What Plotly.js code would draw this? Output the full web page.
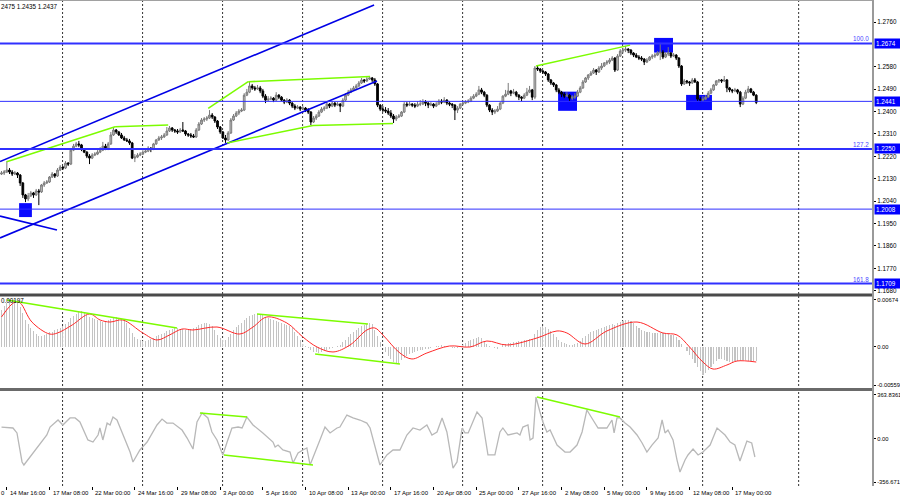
<!DOCTYPE html>
<html><head><meta charset="utf-8">
<script src="https://cdn.plot.ly/plotly-3.0.1.min.js"></script>
<style>html,body{margin:0;padding:0;background:#fff;}#chart{width:900px;height:500px;}</style>
</head><body><div id="chart"></div>
<script>
// ---------- DATA ----------
const timeLabels = ["14 Mar 16:00","17 Mar 08:00","22 Mar 00:00","24 Mar 16:00","29 Mar 08:00","3 Apr 00:00","5 Apr 16:00","10 Apr 08:00","13 Apr 00:00","17 Apr 16:00","20 Apr 08:00","25 Apr 00:00","27 Apr 16:00","2 May 08:00","5 May 00:00","9 May 16:00","12 May 08:00","17 May 00:00"];

const openP = [
1.2149,1.2153,1.2157,1.2165,1.2157,1.2149,1.2153,1.2145,1.2113,1.2065,
1.2049,1.2061,1.2073,1.2065,1.2081,1.2077,1.2105,1.2113,1.2117,1.2137,
1.2149,1.2141,1.2165,1.2177,1.2173,1.2193,1.2189,1.2245,1.2261,1.2270,
1.2266,1.2249,1.2237,1.2221,1.2213,1.2225,1.2229,1.2237,1.2245,1.2261,
1.2249,1.2270,1.2306,1.2326,1.2318,1.2306,1.2294,1.2286,1.2282,1.2274,
1.2213,1.2217,1.2225,1.2229,1.2237,1.2241,1.2253,1.2249,1.2270,1.2286,
1.2294,1.2298,1.2306,1.2322,1.2334,1.2326,1.2322,1.2318,1.2326,1.2322,
1.2310,1.2306,1.2302,1.2298,1.2326,1.2350,1.2366,1.2370,1.2374,1.2386,
1.2378,1.2362,1.2338,1.2318,1.2294,1.2286,1.2314,1.2366,1.2382,1.2394,
1.2402,1.2406,1.2466,1.2478,1.2503,1.2495,1.2491,1.2495,1.2483,1.2462,
1.2446,1.2450,1.2454,1.2446,1.2466,1.2458,1.2446,1.2438,1.2446,1.2434,
1.2422,1.2414,1.2418,1.2410,1.2414,1.2406,1.2398,1.2358,1.2374,1.2382,
1.2398,1.2410,1.2414,1.2430,1.2422,1.2434,1.2426,1.2430,1.2422,1.2446,
1.2466,1.2478,1.2487,1.2495,1.2503,1.2515,1.2527,1.2523,1.2531,1.2535,
1.2527,1.2511,1.2426,1.2410,1.2406,1.2402,1.2394,1.2382,1.2370,1.2378,
1.2382,1.2398,1.2430,1.2426,1.2430,1.2426,1.2422,1.2430,1.2430,1.2438,
1.2434,1.2426,1.2430,1.2422,1.2430,1.2442,1.2438,1.2446,1.2434,1.2430,
1.2426,1.2406,1.2414,1.2430,1.2434,1.2438,1.2442,1.2454,1.2462,1.2470,
1.2487,1.2478,1.2466,1.2426,1.2406,1.2398,1.2402,1.2410,1.2434,1.2462,
1.2470,1.2483,1.2474,1.2478,1.2466,1.2458,1.2454,1.2466,1.2478,1.2487,
1.2458,1.2575,1.2571,1.2563,1.2559,1.2551,1.2527,1.2515,1.2507,1.2487,
1.2478,1.2470,1.2462,1.2466,1.2454,1.2458,1.2462,1.2478,1.2495,1.2519,
1.2535,1.2547,1.2555,1.2567,1.2559,1.2575,1.2583,1.2595,1.2599,1.2607,
1.2615,1.2567,1.2623,1.2643,1.2647,1.2651,1.2647,1.2635,1.2627,1.2619,
1.2615,1.2611,1.2599,1.2607,1.2619,1.2623,1.2627,1.2635,1.2639,1.2619,
1.2631,1.2635,1.2623,1.2627,1.2615,1.2583,1.2511,1.2523,1.2519,1.2515,
1.2527,1.2519,1.2450,1.2446,1.2450,1.2458,1.2474,1.2487,1.2507,1.2523,
1.2527,1.2523,1.2527,1.2495,1.2487,1.2483,1.2487,1.2478,1.2430,1.2454,
1.2478,1.2491,1.2478,1.2466];

const highP = [
1.2161,1.2165,1.2201,1.2173,1.2165,1.2161,1.2157,1.2149,1.2117,1.2069,
1.2073,1.2081,1.2077,1.2089,1.2089,1.2109,1.2121,1.2125,1.2141,1.2157,
1.2153,1.2173,1.2185,1.2181,1.2201,1.2197,1.2253,1.2270,1.2278,1.2282,
1.2270,1.2253,1.2241,1.2229,1.2233,1.2237,1.2245,1.2257,1.2278,1.2270,
1.2278,1.2318,1.2338,1.2330,1.2322,1.2314,1.2302,1.2294,1.2290,1.2278,
1.2229,1.2233,1.2237,1.2245,1.2249,1.2261,1.2257,1.2274,1.2290,1.2302,
1.2306,1.2314,1.2338,1.2342,1.2338,1.2330,1.2330,1.2334,1.2358,1.2326,
1.2314,1.2314,1.2310,1.2334,1.2358,1.2374,1.2378,1.2382,1.2406,1.2394,
1.2382,1.2366,1.2342,1.2322,1.2306,1.2322,1.2374,1.2390,1.2402,1.2410,
1.2414,1.2474,1.2491,1.2519,1.2511,1.2503,1.2507,1.2503,1.2491,1.2470,
1.2462,1.2462,1.2458,1.2478,1.2470,1.2462,1.2450,1.2454,1.2450,1.2438,
1.2430,1.2426,1.2422,1.2422,1.2418,1.2414,1.2402,1.2382,1.2390,1.2406,
1.2418,1.2422,1.2438,1.2434,1.2442,1.2438,1.2438,1.2434,1.2454,1.2474,
1.2487,1.2495,1.2503,1.2511,1.2523,1.2535,1.2531,1.2539,1.2543,1.2539,
1.2535,1.2515,1.2430,1.2422,1.2418,1.2414,1.2406,1.2390,1.2386,1.2390,
1.2402,1.2438,1.2438,1.2442,1.2434,1.2434,1.2442,1.2446,1.2450,1.2446,
1.2438,1.2438,1.2434,1.2438,1.2450,1.2450,1.2458,1.2450,1.2442,1.2434,
1.2430,1.2422,1.2434,1.2442,1.2446,1.2450,1.2462,1.2470,1.2478,1.2503,
1.2495,1.2483,1.2470,1.2430,1.2414,1.2410,1.2422,1.2438,1.2466,1.2487,
1.2515,1.2487,1.2491,1.2483,1.2470,1.2462,1.2474,1.2495,1.2503,1.2491,
1.2583,1.2583,1.2575,1.2567,1.2563,1.2555,1.2531,1.2519,1.2511,1.2495,
1.2483,1.2478,1.2478,1.2470,1.2466,1.2474,1.2487,1.2503,1.2527,1.2539,
1.2551,1.2563,1.2575,1.2571,1.2583,1.2595,1.2599,1.2607,1.2615,1.2623,
1.2619,1.2631,1.2651,1.2655,1.2664,1.2655,1.2651,1.2639,1.2635,1.2627,
1.2623,1.2615,1.2615,1.2623,1.2631,1.2635,1.2643,1.2676,1.2647,1.2639,
1.2659,1.2639,1.2635,1.2631,1.2619,1.2587,1.2531,1.2527,1.2523,1.2535,
1.2535,1.2523,1.2458,1.2462,1.2466,1.2483,1.2495,1.2511,1.2527,1.2531,
1.2531,1.2543,1.2531,1.2499,1.2491,1.2495,1.2491,1.2483,1.2462,1.2487,
1.2503,1.2495,1.2483,1.2470];

const lowP = [
1.2145,1.2145,1.2153,1.2149,1.2141,1.2145,1.2133,1.2101,1.2053,1.2036,
1.2040,1.2057,1.2053,1.2061,1.2024,1.2073,1.2097,1.2109,1.2113,1.2133,
1.2133,1.2137,1.2161,1.2165,1.2169,1.2181,1.2185,1.2241,1.2257,1.2257,
1.2241,1.2233,1.2213,1.2189,1.2209,1.2221,1.2225,1.2233,1.2241,1.2245,
1.2245,1.2266,1.2302,1.2310,1.2302,1.2290,1.2282,1.2278,1.2266,1.2209,
1.2197,1.2213,1.2221,1.2225,1.2233,1.2237,1.2237,1.2245,1.2266,1.2282,
1.2286,1.2294,1.2302,1.2318,1.2318,1.2314,1.2310,1.2314,1.2318,1.2302,
1.2298,1.2294,1.2294,1.2294,1.2322,1.2346,1.2358,1.2362,1.2370,1.2370,
1.2354,1.2330,1.2310,1.2290,1.2274,1.2282,1.2310,1.2362,1.2378,1.2386,
1.2398,1.2402,1.2462,1.2474,1.2487,1.2483,1.2487,1.2474,1.2454,1.2434,
1.2442,1.2446,1.2438,1.2442,1.2450,1.2442,1.2430,1.2434,1.2426,1.2414,
1.2406,1.2410,1.2402,1.2406,1.2398,1.2390,1.2346,1.2354,1.2366,1.2378,
1.2394,1.2402,1.2410,1.2414,1.2418,1.2418,1.2422,1.2398,1.2418,1.2442,
1.2462,1.2474,1.2483,1.2491,1.2499,1.2511,1.2515,1.2519,1.2527,1.2519,
1.2503,1.2418,1.2402,1.2398,1.2394,1.2386,1.2374,1.2354,1.2362,1.2374,
1.2378,1.2394,1.2418,1.2422,1.2418,1.2414,1.2418,1.2422,1.2426,1.2422,
1.2414,1.2422,1.2414,1.2418,1.2426,1.2430,1.2434,1.2426,1.2422,1.2414,
1.2366,1.2394,1.2410,1.2426,1.2430,1.2434,1.2438,1.2450,1.2458,1.2466,
1.2470,1.2458,1.2418,1.2398,1.2386,1.2390,1.2398,1.2406,1.2430,1.2458,
1.2466,1.2462,1.2470,1.2458,1.2446,1.2442,1.2450,1.2462,1.2474,1.2446,
1.2450,1.2563,1.2555,1.2551,1.2543,1.2519,1.2507,1.2499,1.2478,1.2470,
1.2458,1.2454,1.2458,1.2442,1.2446,1.2450,1.2458,1.2474,1.2491,1.2515,
1.2527,1.2543,1.2551,1.2547,1.2555,1.2567,1.2579,1.2587,1.2591,1.2603,
1.2559,1.2563,1.2619,1.2635,1.2639,1.2635,1.2627,1.2619,1.2615,1.2607,
1.2603,1.2587,1.2595,1.2603,1.2611,1.2615,1.2623,1.2607,1.2611,1.2615,
1.2623,1.2615,1.2619,1.2607,1.2575,1.2503,1.2507,1.2511,1.2503,1.2511,
1.2515,1.2442,1.2438,1.2442,1.2446,1.2454,1.2470,1.2483,1.2503,1.2515,
1.2515,1.2519,1.2478,1.2478,1.2474,1.2478,1.2470,1.2418,1.2426,1.2450,
1.2474,1.2474,1.2462,1.2430];

const closeP = [
1.2153,1.2157,1.2165,1.2157,1.2149,1.2153,1.2145,1.2113,1.2065,1.2049,
1.2061,1.2073,1.2065,1.2081,1.2077,1.2105,1.2113,1.2117,1.2137,1.2149,
1.2141,1.2165,1.2177,1.2173,1.2193,1.2189,1.2245,1.2261,1.2270,1.2266,
1.2249,1.2237,1.2221,1.2213,1.2225,1.2229,1.2237,1.2245,1.2261,1.2249,
1.2270,1.2306,1.2326,1.2318,1.2306,1.2294,1.2286,1.2282,1.2274,1.2213,
1.2217,1.2225,1.2229,1.2237,1.2241,1.2253,1.2249,1.2270,1.2286,1.2294,
1.2298,1.2306,1.2322,1.2334,1.2326,1.2322,1.2318,1.2326,1.2322,1.2310,
1.2306,1.2302,1.2298,1.2326,1.2350,1.2366,1.2370,1.2374,1.2386,1.2378,
1.2362,1.2338,1.2318,1.2294,1.2286,1.2314,1.2366,1.2382,1.2394,1.2402,
1.2406,1.2466,1.2478,1.2503,1.2495,1.2491,1.2495,1.2483,1.2462,1.2446,
1.2450,1.2454,1.2446,1.2466,1.2458,1.2446,1.2438,1.2446,1.2434,1.2422,
1.2414,1.2418,1.2410,1.2414,1.2406,1.2398,1.2358,1.2374,1.2382,1.2398,
1.2410,1.2414,1.2430,1.2422,1.2434,1.2426,1.2430,1.2422,1.2446,1.2466,
1.2478,1.2487,1.2495,1.2503,1.2515,1.2527,1.2523,1.2531,1.2535,1.2527,
1.2511,1.2426,1.2410,1.2406,1.2402,1.2394,1.2382,1.2370,1.2378,1.2382,
1.2398,1.2430,1.2426,1.2430,1.2426,1.2422,1.2430,1.2430,1.2438,1.2434,
1.2426,1.2430,1.2422,1.2430,1.2442,1.2438,1.2446,1.2434,1.2430,1.2426,
1.2406,1.2414,1.2430,1.2434,1.2438,1.2442,1.2454,1.2462,1.2470,1.2487,
1.2478,1.2466,1.2426,1.2406,1.2398,1.2402,1.2410,1.2434,1.2462,1.2470,
1.2483,1.2474,1.2478,1.2466,1.2458,1.2454,1.2466,1.2478,1.2487,1.2458,
1.2575,1.2571,1.2563,1.2559,1.2551,1.2527,1.2515,1.2507,1.2487,1.2478,
1.2470,1.2462,1.2466,1.2454,1.2458,1.2462,1.2478,1.2495,1.2519,1.2535,
1.2547,1.2555,1.2567,1.2559,1.2575,1.2583,1.2595,1.2599,1.2607,1.2615,
1.2567,1.2623,1.2643,1.2647,1.2651,1.2647,1.2635,1.2627,1.2619,1.2615,
1.2611,1.2599,1.2607,1.2619,1.2623,1.2627,1.2635,1.2639,1.2619,1.2631,
1.2635,1.2623,1.2627,1.2615,1.2583,1.2511,1.2523,1.2519,1.2515,1.2527,
1.2519,1.2450,1.2446,1.2450,1.2458,1.2474,1.2487,1.2507,1.2523,1.2527,
1.2523,1.2527,1.2495,1.2487,1.2483,1.2487,1.2478,1.2430,1.2454,1.2478,
1.2491,1.2478,1.2466,1.2437];

const macdHist = [
0.00530,0.00587,0.00631,0.00659,0.00674,0.00674,0.00659,0.00573,0.00486,0.00385,
0.00328,0.00270,0.00227,0.00184,0.00155,0.00155,0.00169,0.00184,0.00212,0.00212,
0.00241,0.00255,0.00270,0.00299,0.00328,0.00356,0.00414,0.00443,0.00472,0.00501,
0.00515,0.00486,0.00457,0.00429,0.00414,0.00400,0.00385,0.00371,0.00356,0.00371,
0.00385,0.00400,0.00414,0.00429,0.00414,0.00400,0.00385,0.00342,0.00270,0.00198,
0.00140,0.00111,0.00097,0.00082,0.00082,0.00097,0.00111,0.00126,0.00155,0.00169,
0.00184,0.00198,0.00227,0.00241,0.00255,0.00270,0.00270,0.00255,0.00255,0.00241,
0.00241,0.00255,0.00270,0.00284,0.00313,0.00328,0.00342,0.00342,0.00328,0.00299,
0.00241,0.00169,0.00126,0.00097,0.00097,0.00140,0.00184,0.00241,0.00284,0.00313,
0.00342,0.00385,0.00414,0.00443,0.00457,0.00472,0.00472,0.00472,0.00457,0.00429,
0.00414,0.00400,0.00385,0.00371,0.00356,0.00342,0.00328,0.00313,0.00299,0.00270,
0.00212,0.00155,0.00097,0.00039,0.00010,-0.00019,-0.00048,-0.00076,-0.00076,-0.00091,
-0.00076,-0.00062,-0.00048,-0.00033,-0.00019,-0.00004,0.00010,0.00025,0.00068,0.00097,
0.00140,0.00184,0.00212,0.00241,0.00270,0.00299,0.00313,0.00328,0.00342,0.00328,
0.00241,0.00155,0.00068,-0.00004,-0.00076,-0.00134,-0.00177,-0.00221,-0.00250,-0.00235,
-0.00192,-0.00163,-0.00134,-0.00105,-0.00091,-0.00076,-0.00062,-0.00048,-0.00048,-0.00033,
-0.00033,-0.00019,-0.00004,0.00010,0.00010,0.00025,0.00010,-0.00004,-0.00004,-0.00019,
-0.00019,-0.00019,-0.00004,0.00025,0.00053,0.00082,0.00097,0.00111,0.00126,0.00140,
0.00126,0.00082,0.00039,0.00010,-0.00004,-0.00019,-0.00033,-0.00004,0.00025,0.00039,
0.00053,0.00053,0.00068,0.00068,0.00082,0.00082,0.00097,0.00097,0.00111,0.00111,
0.00184,0.00241,0.00284,0.00299,0.00284,0.00255,0.00227,0.00184,0.00140,0.00097,
0.00068,0.00053,0.00039,0.00025,0.00025,0.00039,0.00053,0.00082,0.00126,0.00155,
0.00184,0.00212,0.00227,0.00241,0.00255,0.00270,0.00284,0.00299,0.00313,0.00328,
0.00313,0.00342,0.00356,0.00371,0.00385,0.00385,0.00371,0.00342,0.00299,0.00270,
0.00241,0.00227,0.00212,0.00212,0.00198,0.00198,0.00198,0.00198,0.00198,0.00184,
0.00184,0.00169,0.00169,0.00140,0.00097,0.00039,-0.00004,-0.00062,-0.00120,-0.00177,
-0.00235,-0.00293,-0.00351,-0.00408,-0.00380,-0.00336,-0.00293,-0.00250,-0.00206,-0.00177,
-0.00177,-0.00192,-0.00206,-0.00221,-0.00221,-0.00206,-0.00206,-0.00206,-0.00192,-0.00192,
-0.00206,-0.00206,-0.00206,-0.00206];

const macdSignalBar = [0,5,7,11.4,18,21,26.5,33,37,40.7,45.5,53,58.3,63,67.7,71.8,80.8,89.4,94.3,99.5,107,113,118.3,124.3,130.7,137,140,143,149.4,153.9,159.5,168,175.7,182,189.5,200.8,208.3,212,218.8,227,238.3,248,253.3,258,263,266.8,272,275.8,283];
const macdSignal = [0.00429,0.00645,0.00631,0.00356,0.00183,0.00198,0.00313,0.00472,0.00385,0.00356,0.00385,0.00198,0.00097,0.00169,0.00255,0.00241,0.00284,0.00183,0.00284,0.00429,0.00342,0.00140,-0.00004,-0.00076,0.00025,0.00241,0.00270,0.00169,-0.00091,-0.00177,-0.00091,0.00010,-0.00004,0.00082,0.00025,0.00126,0.00227,0.00198,0.00039,0.00227,0.00356,0.00198,0.00169,-0.00004,-0.00221,-0.00322,-0.00264,-0.00206,-0.00221];

const cciBar = [0,4.3,5.8,7.7,8.4,10.7,13.3,17,18.2,20,21.2,23,25.7,27.6,29.4,32.4,34.3,36.2,36.9,38,39.6,40.7,41.8,43.3,45.6,48.2,49.3,51.9,54.6,58.3,60.2,62,64.3,67.7,69.6,71.8,73.3,75.2,77.4,78.9,80.8,83,84.6,86.4,88.7,90.2,92,94.3,98,101.8,102.6,103.7,105.5,108.2,109.3,111.2,113,114.5,115.7,117.5,119.4,121.3,123.2,125.8,126.9,129.5,131.8,134.4,137,138.2,140,141.9,144.5,146.8,149.4,152,154.3,156.9,159.5,161.4,163.3,165.2,167,168.2,169.3,170.8,172.7,173.8,175,178.3,180.2,182.4,185,186.9,188,189.9,193.3,194.4,195.5,197.4,198.2,199.3,200.4,201.9,203,204.5,205.7,208.3,211.3,213.2,215.8,217.7,219.5,221.8,223.7,227,228.9,229.7,230.8,231.9,233.8,235.7,238.3,240.2,242,243.9,246.2,247.7,248.8,249.9,251.8,253.3,254.4,256.3,257.4,259.3,261.2,263,265.7,268.3,270.2,271.3,273.2,275,276.9,278,279.5,281.3,282.5];
const cciVal = [99,91,50,-190,-215,-149,-66,33,99,132,157,116,174,174,141,-8,-25,33,91,-8,132,116,182,157,33,-108,-190,-91,-25,116,165,132,132,74,8,-83,141,215,174,58,-8,-132,-25,91,99,91,182,116,50,-25,-66,-50,-91,-108,-198,-116,-91,-74,-215,-108,-8,99,50,91,99,198,174,157,132,91,-50,-215,-132,-91,-91,33,91,74,116,33,58,174,58,-108,-240,-190,91,50,50,223,174,-132,-132,58,91,33,50,33,99,116,-8,8,347,223,141,58,74,-50,-108,-108,-50,58,240,157,91,91,157,50,174,174,132,99,33,-33,-108,-50,8,157,50,74,-8,-174,-273,-174,-132,-83,-132,-108,-50,91,58,33,-25,-50,-182,-108,-17,-33,-149];

// Drawn objects: [barStart, valueStart, barEnd, valueEnd]
const blueTrendLines = [[-0.56,1.2199,139.7,1.2828],[-0.56,1.1892,140.8,1.2523],[-0.56,1.1980,20.8,1.1924]];
const greenPriceLines = [[1.95,1.2198,42.6,1.2339],[42.6,1.2339,62.5,1.2346],[77.5,1.2413,92.5,1.2520],[92.5,1.2520,138.2,1.2541],[84.6,1.2274,116.8,1.2344],[116.8,1.2344,146.8,1.2352],[200.4,1.2583,235.7,1.2667]];
const greenMacdLines = [[2.1,0.00674,65.8,0.00270],[95.8,0.00472,137.4,0.00328],[117.6,-0.00105,149.4,-0.00250]];
const greenCciLines = [[74.4,215,92.1,182],[83.4,-132,116.8,-215],[200.8,347,231.9,182]];
const markerBoxes = [[6.6,11.4,1.1976,1.2032],[208.7,215.8,1.2403,1.2480],[244.7,251.8,1.2637,1.2696],[256.7,266.4,1.2406,1.2467]];
const levels = [1.2674,1.2441,1.2250,1.2008,1.1709];
const fibLabels = [["100.0",1.2674],["127.2",1.2250],["161.8",1.1709]];
const priceTicks = [1.2760,1.2580,1.2490,1.2400,1.2310,1.2220,1.2130,1.2040,1.1950,1.1860,1.1770,1.1680];
const macdTicks = [0.00674,0,-0.00559];
const macdTickText = ["0.00674","0.00","-0.00559"];
const cciTicks = [363.8361,0,-356.6713];
const cciTickText = ["363.8361","0.00","-356.6713"];
const headerText = "2475 1.2435 1.2437";
const macdInfo = "0.00197";

// ---------- STYLE / LAYOUT ----------
const FONT = "Liberation Sans, Arial, sans-serif";
const bars = closeP.map((_, i) => i);
const levelWidths = [2,1,2,1,2];
const gridBars = [22.9,52.9,82.9,112.9,142.9,172.9,202.9,232.9,262.9,298.9];
const labelBars = timeLabels.map((_, k) => 2 + 16 * k);

const traces = [];
traces.push({
  type:'candlestick', x:bars, open:openP, high:highP, low:lowP, close:closeP,
  xaxis:'x', yaxis:'y', hoverinfo:'skip', whiskerwidth:0,
  increasing:{line:{color:'#7a7a7a', width:1}, fillcolor:'#c4c4c4'},
  decreasing:{line:{color:'#000000', width:1}, fillcolor:'#000000'}
});
function addLines(arr, yaxis, color, width){
  arr.forEach(l => traces.push({type:'scatter', mode:'lines', x:[l[0],l[2]], y:[l[1],l[3]], xaxis:'x', yaxis:yaxis, line:{color:color, width:width}, hoverinfo:'skip'}));
}
addLines(blueTrendLines, 'y', '#0000e6', 1.6);
addLines(greenPriceLines, 'y', '#7cfc00', 1.5);

traces.push({type:'bar', x:bars, y:macdHist, xaxis:'x', yaxis:'y2', width:0.45, marker:{color:'#c3c3c3', line:{width:0}}, hoverinfo:'skip'});
traces.push({type:'scatter', mode:'lines', x:macdSignalBar, y:macdSignal, xaxis:'x', yaxis:'y2', line:{color:'#ff2a2a', width:1, shape:'spline', smoothing:1}, hoverinfo:'skip'});
addLines(greenMacdLines, 'y2', '#7cfc00', 1.5);

traces.push({type:'scatter', mode:'lines', x:cciBar, y:cciVal, xaxis:'x', yaxis:'y3', line:{color:'#b8b8b8', width:1.3}, hoverinfo:'skip'});
addLines(greenCciLines, 'y3', '#7cfc00', 1.5);

const shapes = [];
gridBars.forEach(b => shapes.push({type:'line', xref:'x', yref:'paper', x0:b, x1:b, y0:0, y1:1, layer:'below', line:{color:'#333', width:1, dash:'2px,2px'}}));
markerBoxes.forEach(b => shapes.push({type:'rect', xref:'x', yref:'y', x0:b[0], x1:b[1], y0:b[2], y1:b[3], layer:'below', fillcolor:'#0a0aff', line:{width:0}}));
levels.forEach((v,i) => shapes.push({type:'line', xref:'paper', yref:'y', x0:0, x1:1, y0:v, y1:v, line:{color:'#3030ff', width:levelWidths[i]}}));
// panel separators and borders
shapes.push({type:'line', xref:'paper', yref:'paper', x0:0, x1:1, y0:0.3930, y1:0.3930, line:{color:'#4a4a4a', width:3}});
shapes.push({type:'line', xref:'paper', yref:'paper', x0:0, x1:1, y0:0.1986, y1:0.1986, line:{color:'#6a6a6a', width:3}});
shapes.push({type:'line', xref:'paper', yref:'paper', x0:0, x1:1, y0:0.999, y1:0.999, line:{color:'#a0a0a0', width:1}});
shapes.push({type:'line', xref:'paper', yref:'paper', x0:1, x1:1, y0:0, y1:1, line:{color:'#9a9a9a', width:2}});

const annotations = [];
timeLabels.forEach((t,k) => annotations.push({xref:'x', yref:'paper', x:labelBars[k], y:0, xanchor:'left', yanchor:'top', xshift:1, yshift:-2, text:t, showarrow:false, font:{family:FONT, size:6, color:'#000'}}));
annotations.push({xref:'paper', yref:'paper', x:0, y:0, xanchor:'left', yanchor:'top', xshift:-1, yshift:-2, text:'0', showarrow:false, font:{family:FONT, size:6, color:'#000'}});
levels.forEach(v => annotations.push({xref:'paper', yref:'y', x:1, y:v, xanchor:'left', yanchor:'middle', xshift:1, text:v.toFixed(4), showarrow:false, bgcolor:'#0000ff', borderpad:1, width:23, align:'left', font:{family:FONT, size:6.3, color:'#ffffff'}}));
fibLabels.forEach(f => annotations.push({xref:'paper', yref:'y', x:1, y:f[1], xanchor:'right', yanchor:'bottom', xshift:-2, yshift:-1, text:f[0], showarrow:false, font:{family:FONT, size:6.3, color:'#4a4aff'}}));
annotations.push({xref:'paper', yref:'paper', x:0, y:1, xanchor:'left', yanchor:'top', xshift:-1, yshift:-1, text:headerText, showarrow:false, font:{family:FONT, size:6.3, color:'#000'}});
annotations.push({xref:'paper', yref:'paper', x:0, y:0.3807, xanchor:'left', yanchor:'middle', xshift:-1, text:macdInfo, showarrow:false, font:{family:FONT, size:6.3, color:'#000'}});

const axisFont = {family:FONT, size:6.3, color:'#000'};
const smallAxisFont = {family:FONT, size:5.8, color:'#000'};
const layout = {
  width:900, height:500, margin:{l:0, r:27, t:0, b:14, autoexpand:false},
  paper_bgcolor:'#ffffff', plot_bgcolor:'#ffffff', showlegend:false,
  boxgap:0.2, boxgroupgap:0.2, bargap:0,
  xaxis:{domain:[0,1], range:[-0.5625, 326.78], anchor:'y3', showgrid:false, zeroline:false, showline:false,
         tickvals:labelBars, ticks:'outside', ticklen:3, tickcolor:'#000', showticklabels:false,
         rangeslider:{visible:false}, fixedrange:true},
  yaxis:{domain:[0.3971,1], range:[1.16708,1.28484], anchor:'x', side:'right', showgrid:false, zeroline:false,
         tickvals:priceTicks, ticktext:priceTicks.map(v=>v.toFixed(4)), ticks:'outside', ticklen:2, tickcolor:'#000', tickfont:axisFont, showline:false, fixedrange:true},
  yaxis2:{domain:[0.2016,0.3889], range:[-0.00596,0.00717], anchor:'x', side:'right', showgrid:false, zeroline:false,
         tickvals:macdTicks, ticktext:macdTickText, ticks:'outside', ticklen:2, tickcolor:'#000', tickfont:smallAxisFont, fixedrange:true},
  yaxis3:{domain:[0,0.1955], range:[-388.7,397], anchor:'x', side:'right', showgrid:false, zeroline:false,
         tickvals:cciTicks, ticktext:cciTickText, ticks:'outside', ticklen:2, tickcolor:'#000', tickfont:smallAxisFont, fixedrange:true},
  shapes:shapes, annotations:annotations
};
Plotly.newPlot('chart', traces, layout, {staticPlot:true, displayModeBar:false});
</script>
</body></html>
